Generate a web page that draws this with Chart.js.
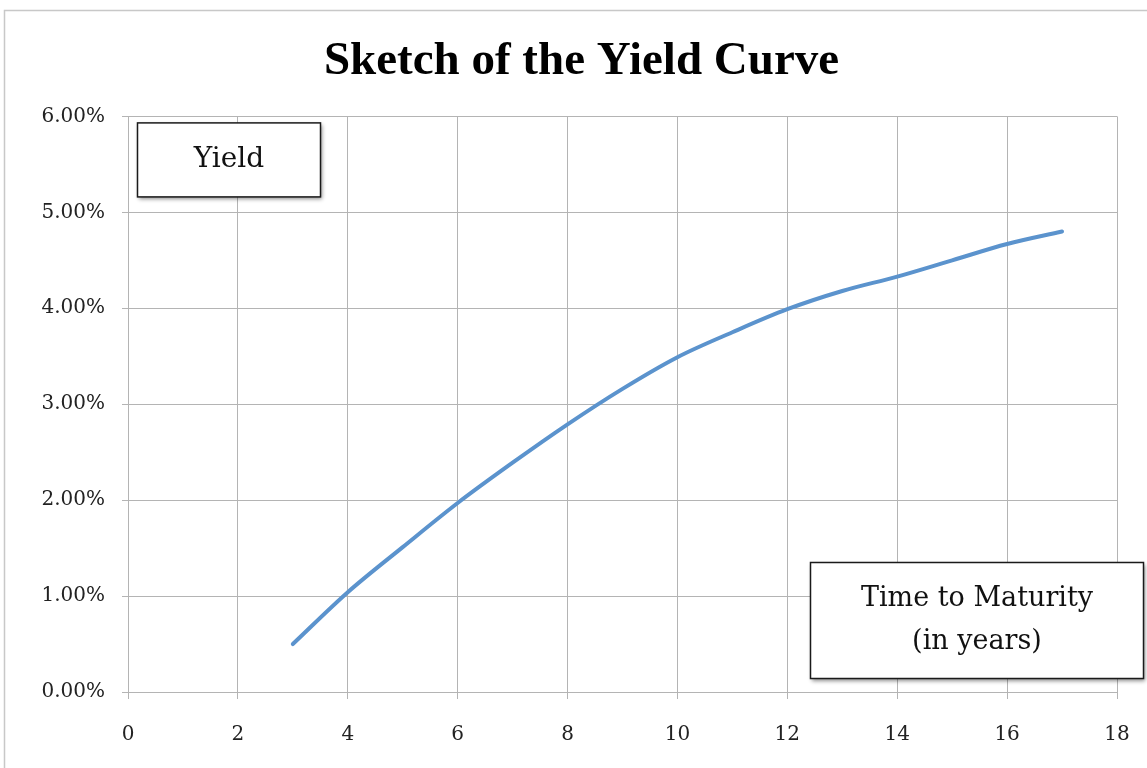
<!DOCTYPE html>
<html>
<head>
<meta charset="utf-8">
<script src="https://cdn.jsdelivr.net/npm/chart.js@4/dist/chart.umd.min.js"></script>
<style>
html,body{margin:0;padding:0;background:#fff;}
#wrap{width:1147px;height:768px;position:relative;}
</style>
</head>
<body>
<div id="wrap"><canvas id="c" width="1147" height="768"></canvas></div>
<script>
const titleText = "Sketch of the Yield Curve";
const maturities = [3, 4, 5, 6, 7, 8, 9, 10, 11, 12, 13, 14, 15, 16, 17];
const yields = [0.50, 1.04, 1.51, 1.97, 2.39, 2.79, 3.16, 3.49, 3.75, 3.99, 4.18, 4.33, 4.50, 4.67, 4.80];
const yLabel = ["Yield"];
const xLabel = ["Time to Maturity", "(in years)"];

const serif = "'DejaVu Serif', serif";

const framePlugin = {
  id: 'frame',
  beforeDraw(chart) {
    const ctx = chart.ctx;
    ctx.save();
    ctx.fillStyle = '#fff';
    ctx.fillRect(0, 0, chart.width, chart.height);
    ctx.strokeStyle = '#c8c8c8';
    ctx.lineWidth = 1.5;
    ctx.strokeRect(4.5, 10.5, chart.width + 20, chart.height + 20);
    ctx.restore();
  }
};

function drawBox(ctx, x, y, w, h, lines, size, lineGap) {
  ctx.save();
  ctx.shadowColor = 'rgba(0,0,0,0.45)';
  ctx.shadowBlur = 4;
  ctx.shadowOffsetX = 1;
  ctx.shadowOffsetY = 2;
  ctx.fillStyle = '#fff';
  ctx.fillRect(x, y, w, h);
  ctx.restore();
  ctx.save();
  ctx.strokeStyle = '#1a1a1a';
  ctx.lineWidth = 1.5;
  ctx.strokeRect(x, y, w, h);
  ctx.fillStyle = '#111';
  ctx.font = size + 'px ' + serif;
  ctx.textAlign = 'center';
  ctx.textBaseline = 'middle';
  const n = lines.length;
  const cy = y + h / 2;
  lines.forEach((t, i) => {
    ctx.fillText(t, x + w / 2, cy + (i - (n - 1) / 2) * lineGap);
  });
  ctx.restore();
}

const boxPlugin = {
  id: 'boxes',
  afterDatasetsDraw(chart) {
    const a = chart.chartArea;
    const ctx = chart.ctx;
    drawBox(ctx, a.left + 9.5, a.top + 6.5, 183, 74, yLabel, 28, 0);
    drawBox(ctx, a.right - 306.5, a.bottom - 129.5, 333, 116, xLabel, 27, 43);
  }
};

new Chart(document.getElementById('c'), {
  type: 'line',
  data: {
    datasets: [{
      data: maturities.map((m, i) => ({x: m, y: yields[i]})),
      borderColor: '#5b93cd',
      borderWidth: 4,
      pointRadius: 0,
      cubicInterpolationMode: 'monotone',
      fill: false,
      borderCapStyle: 'round'
    }]
  },
  options: {
    responsive: false,
    animation: false,
    devicePixelRatio: 1,
    layout: {padding: {left: 16, right: 0, top: 0, bottom: 0}},
    plugins: {
      legend: {display: false},
      tooltip: {enabled: false},
      title: {
        display: true,
        text: titleText,
        color: '#000',
        font: {family: "'Liberation Serif', serif", size: 47, weight: 'bold', lineHeight: 1.2},
        padding: {top: 34, bottom: 26}
      }
    },
    scales: {
      x: {
        type: 'linear',
        min: 0, max: 18,
        ticks: {stepSize: 2, color: '#222', font: {family: serif, size: 20}, padding: 24, maxRotation: 0},
        grid: {color: '#b4b4b4', lineWidth: 1, tickLength: 7},
        border: {color: '#b4b4b4'},
        afterFit(s) { s.height = 76; s.paddingRight = 0; s.paddingLeft = 0; }
      },
      y: {
        min: 0, max: 6,
        ticks: {stepSize: 1, color: '#222', font: {family: serif, size: 20}, padding: 17,
          callback: v => v.toFixed(2) + '%'},
        grid: {color: '#b4b4b4', lineWidth: 1, tickLength: 6},
        border: {color: '#b4b4b4'},
        afterFit(s) { s.width = 112; }
      },
      spacer: {
        type: 'linear',
        position: 'right',
        axis: 'y',
        display: true,
        grid: {display: false, drawTicks: false},
        border: {display: false},
        ticks: {display: false},
        afterFit(s) { s.width = 30; }
      }
    }
  },
  plugins: [framePlugin, boxPlugin]
});
</script>
</body>
</html>
